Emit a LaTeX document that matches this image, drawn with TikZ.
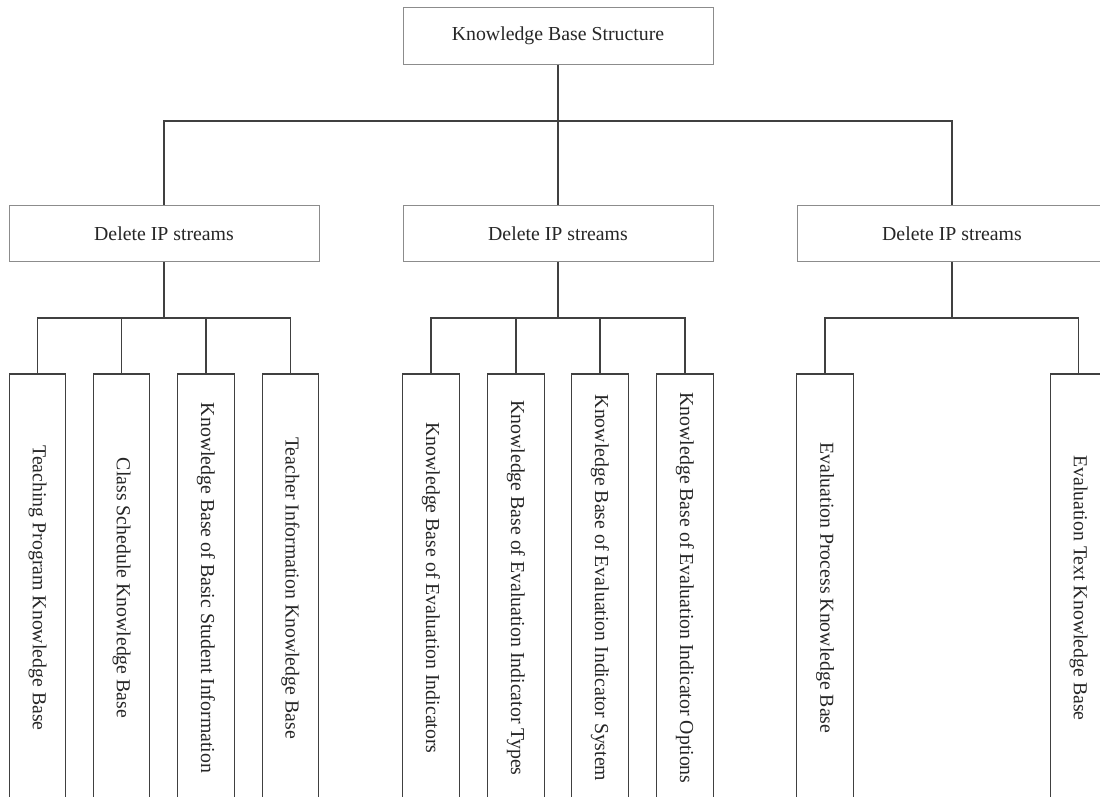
\documentclass[tikz,border=0pt]{standalone}
\usepackage{fontspec}
\setmainfont{Liberation Serif}
\tikzset{
  x=1pt, y=-1pt,
  topbox/.style={draw=black!45, line width=0.9pt, minimum width=310pt, minimum height=56.5pt, inner sep=0pt, text=black!85, font=\fontsize{19.8pt}{22pt}\selectfont},
  leafbox/.style={draw=black!75, line width=1.4pt, rotate=-90, minimum width=428pt, minimum height=56.5pt, inner sep=0pt, text=black!85, font=\fontsize{19.8pt}{22pt}\selectfont},
  conn/.style={draw=black!75, line width=1.6pt}
}
\begin{document}
\begin{tikzpicture}
\useasboundingbox (0,0) rectangle (1100,796);
\clip (0,0) rectangle (1100,796);
\fill[white] (0,0) rectangle (1100,796);

\node[topbox] (root) at (558,36) {Knowledge Base Structure};
\node[topbox] (ga) at (164,233.5) {Delete IP streams};
\node[topbox] (gb) at (558,233.5) {Delete IP streams};
\node[topbox] (gc) at (952,233.5) {Delete IP streams};

\coordinate (bus0) at (0,121);
\coordinate (bus1) at (0,318);

\node[leafbox] (a1) at (37.5,588) {Teaching Program Knowledge Base};
\node[leafbox] (a2) at (121.5,588) {Class Schedule Knowledge Base};
\node[leafbox] (a3) at (206,588) {Knowledge Base of Basic Student Information};
\node[leafbox] (a4) at (290.5,588) {Teacher Information Knowledge Base};

\node[leafbox] (b1) at (431,588) {Knowledge Base of Evaluation Indicators};
\node[leafbox] (b2) at (516,588) {Knowledge Base of Evaluation Indicator Types};
\node[leafbox] (b3) at (600,588) {Knowledge Base of Evaluation Indicator System};
\node[leafbox] (b4) at (685,588) {Knowledge Base of Evaluation Indicator Options};

\node[leafbox] (c1) at (825,588) {Evaluation Process Knowledge Base};
\node[leafbox] (c2) at (1078.5,588) {Evaluation Text Knowledge Base};

% level 1 connectors
\draw[conn] (root.south) -- (root.south |- bus0);
\draw[conn] (ga.north) |- (gc.north |- bus0) -- (gc.north);
\draw[conn] (gb.north) -- (gb.north |- bus0);

% group a
\draw[conn] (ga.south) -- (ga.south |- bus1);
\draw[conn] (a1.west) |- (a4.west |- bus1) -- (a4.west);
\draw[conn] (a2.west) -- (a2.west |- bus1);
\draw[conn] (a3.west) -- (a3.west |- bus1);

% group b
\draw[conn] (gb.south) -- (gb.south |- bus1);
\draw[conn] (b1.west) |- (b4.west |- bus1) -- (b4.west);
\draw[conn] (b2.west) -- (b2.west |- bus1);
\draw[conn] (b3.west) -- (b3.west |- bus1);

% group c
\draw[conn] (gc.south) -- (gc.south |- bus1);
\draw[conn] (c1.west) |- (c2.west |- bus1) -- (c2.west);
\end{tikzpicture}
\end{document}
